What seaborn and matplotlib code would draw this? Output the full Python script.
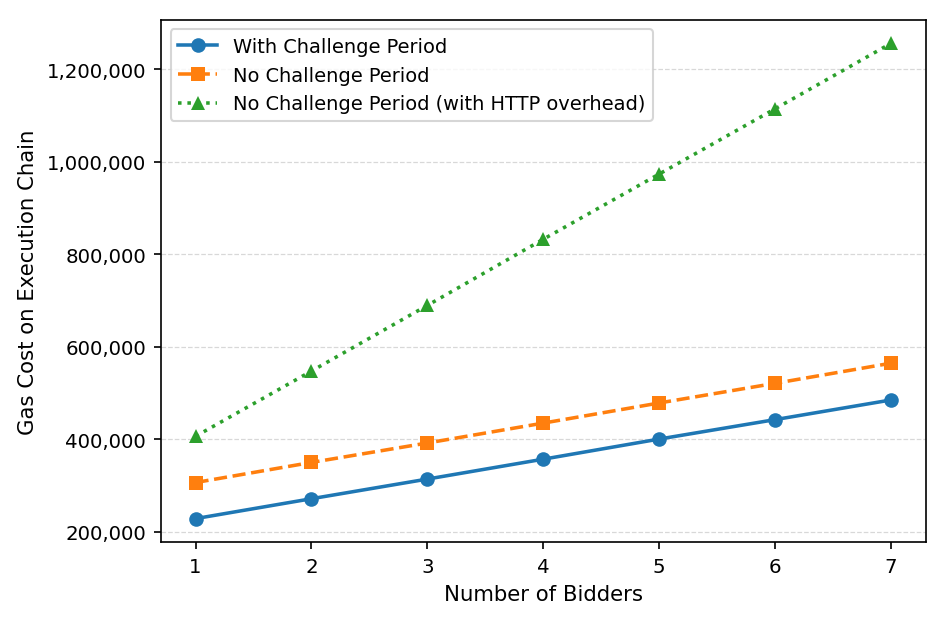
import matplotlib
matplotlib.use("Agg")
import matplotlib.pyplot as plt
import matplotlib.ticker as mticker
import seaborn as sns
import pandas as pd

bidders = [1, 2, 3, 4, 5, 6, 7]
with_challenge = [228000, 271000, 313500, 356500, 400000, 442000, 484500]
no_challenge = [306000, 349500, 391500, 434500, 478000, 520500, 564000]
no_challenge_http = [406000, 547000, 689000, 832000, 973000, 1114000, 1255500]

labels = ["With Challenge Period", "No Challenge Period",
          "No Challenge Period (with HTTP overhead)"]
colors = ["#1f77b4", "#ff7f0e", "#2ca02c"]
markers = ["o", "s", "^"]
styles = ["-", "--", ":"]

fig, ax = plt.subplots(figsize=(9.46 / 1.5, 6.26 / 1.5), dpi=150)

for vals, lab, c, m, ls in zip([with_challenge, no_challenge, no_challenge_http],
                               labels, colors, markers, styles):
    df = pd.DataFrame({"bidders": bidders, "gas": vals})
    sns.lineplot(data=df, x="bidders", y="gas", ax=ax, color=c, marker=m,
                 linestyle=ls, linewidth=1.7, markersize=7, markeredgewidth=0,
                 label=lab)

ax.set_xlabel("Number of Bidders", fontsize=10.2)
ax.set_ylabel("Gas Cost on Execution Chain", fontsize=10.2)
ax.set_xticks(bidders)
ax.tick_params(labelsize=9.5)
ax.yaxis.set_major_formatter(mticker.FuncFormatter(lambda v, p: f"{int(v):,}"))
ax.grid(axis="y", linestyle="--", color="#d8d8d8", linewidth=0.6)
ax.set_axisbelow(True)
ax.legend(loc="upper left", fontsize=9.3)

fig.subplots_adjust(left=0.170, right=0.9785, top=0.967, bottom=0.132)
fig.savefig("out.png", dpi=150)
